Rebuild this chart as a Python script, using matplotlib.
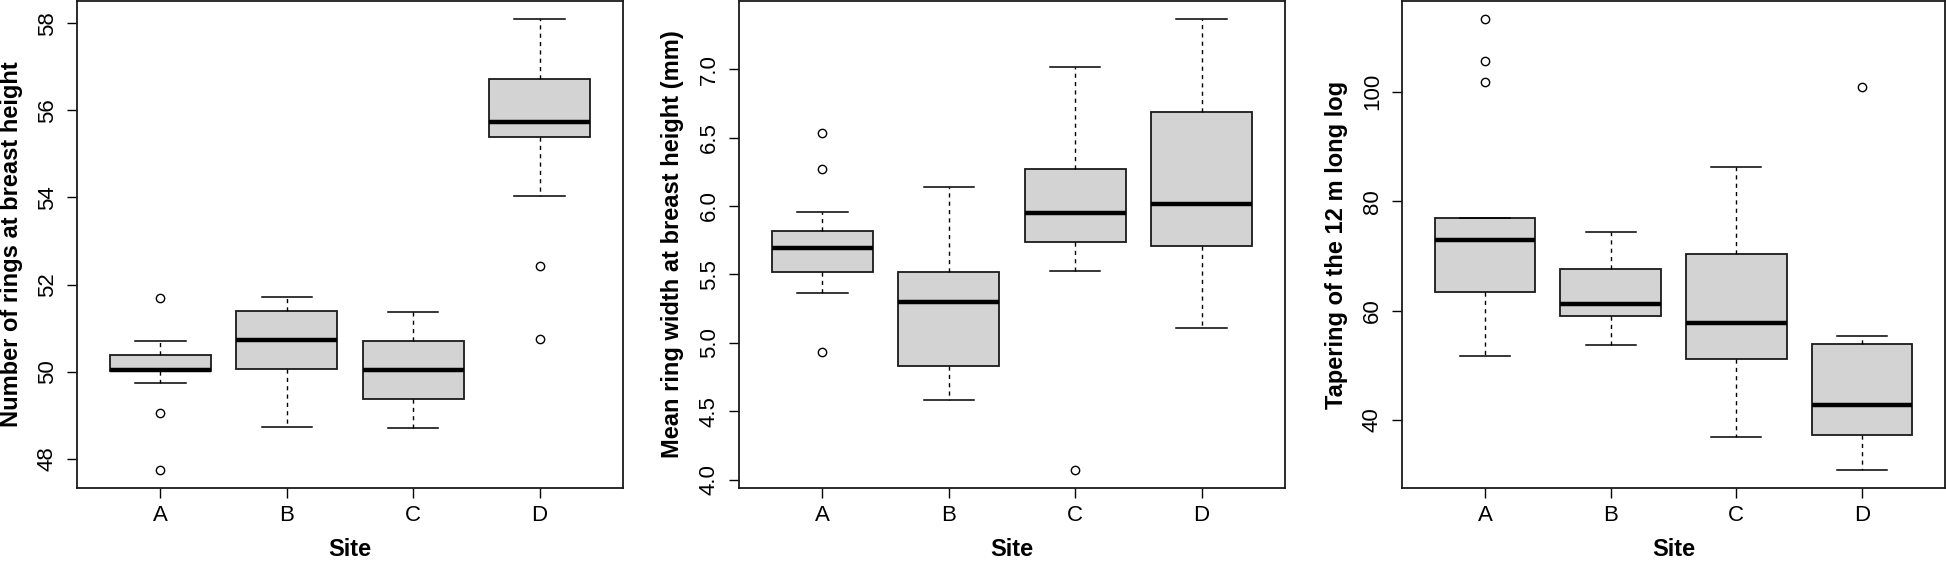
import matplotlib
matplotlib.use("Agg")
import matplotlib.pyplot as plt
import numpy as np

plt.rcParams['font.family'] = ['Liberation Sans', 'DejaVu Sans']

sites = ["A", "B", "C", "D"]

# Panel 1: Number of rings at breast height
rings_whislo = [49.73, 48.73, 48.70, 54.04]
rings_q1     = [50.02, 50.05, 49.37, 55.40]
rings_med    = [50.04, 50.73, 50.04, 55.74]
rings_q3     = [50.37, 51.40, 50.70, 56.73]
rings_whishi = [50.70, 51.72, 51.38, 58.10]
rings_fliers = [[51.70, 49.04, 47.74], [], [], [52.42, 50.75]]
rings_ticks  = [48, 50, 52, 54, 56, 58]

# Panel 2: Mean ring width at breast height (mm)
width_whislo = [5.367, 4.579, 5.524, 5.106]
width_q1     = [5.518, 4.827, 5.738, 5.709]
width_med    = [5.691, 5.297, 5.949, 6.014]
width_q3     = [5.818, 5.518, 6.270, 6.690]
width_whishi = [5.954, 6.139, 7.016, 7.366]
width_fliers = [[6.536, 6.272, 4.931], [], [4.070], []]
width_ticks  = [4.0, 4.5, 5.0, 5.5, 6.0, 6.5, 7.0]

# Panel 3: Tapering of the 12 m long log
taper_whislo = [51.76, 53.78, 36.86, 30.86]
taper_q1     = [63.45, 59.07, 51.23, 37.32]
taper_med    = [72.98, 61.23, 57.70, 42.81]
taper_q3     = [76.97, 67.56, 70.37, 53.85]
taper_whishi = [76.97, 74.42, 86.18, 55.28]
taper_fliers = [[113.3, 105.7, 101.7], [], [], [100.94]]
taper_ticks  = [40, 60, 80, 100]

panels = [
    ("Number of rings at breast height", rings_whislo, rings_q1, rings_med, rings_q3, rings_whishi, rings_fliers, rings_ticks, "{:.0f}"),
    ("Mean ring width at breast height (mm)", width_whislo, width_q1, width_med, width_q3, width_whishi, width_fliers, width_ticks, "{:.1f}"),
    ("Tapering of the 12 m long log", taper_whislo, taper_q1, taper_med, taper_q3, taper_whishi, taper_fliers, taper_ticks, "{:.0f}"),
]

W, H = 1946, 561
fig = plt.figure(figsize=(W / 100, H / 100), dpi=100)
lefts = [77, 739, 1402]
widths = [546, 546, 543]
bottom_px, top_px = 488, 1
ax_h = bottom_px - top_px

for (ylabel, wlo, q1, med, q3, whi, fl, ticks, fmt), lp, wp in zip(panels, lefts, widths):
    ax = fig.add_axes([lp / W, (H - bottom_px) / H, wp / W, ax_h / H])
    stats = []
    for i in range(len(sites)):
        stats.append(dict(label=sites[i], whislo=wlo[i], q1=q1[i], med=med[i],
                          q3=q3[i], whishi=whi[i], fliers=fl[i]))
    ax.bxp(stats, positions=np.arange(1, len(sites) + 1), widths=0.8,
           patch_artist=True, showfliers=True,
           boxprops=dict(facecolor="#D3D3D3", edgecolor="#1a1a1a", linewidth=1.3),
           medianprops=dict(color="black", linewidth=3.2, solid_capstyle="butt"),
           whiskerprops=dict(color="black", linewidth=1.0, linestyle=(0, (3, 3))),
           capprops=dict(color="black", linewidth=1.1),
           capwidths=0.4,
           flierprops=dict(marker="o", markerfacecolor="none", markeredgecolor="black",
                           markersize=6, markeredgewidth=1.0))
    allv = list(wlo) + list(whi) + [v for f in fl for v in f]
    lo, hi = min(allv), max(allv)
    pad = 0.04 * (hi - lo)
    ax.set_ylim(lo - pad, hi + pad)
    ax.set_xlim(0.34, len(sites) + 0.66)
    ax.set_yticks(ticks)
    ax.set_yticklabels([fmt.format(t) for t in ticks], rotation=90, va="center")
    ax.set_xticks(np.arange(1, len(sites) + 1))
    ax.set_xticklabels(sites)
    ax.tick_params(axis="both", labelsize=16, length=7.2, width=1.0, color="black", direction="out")
    ax.tick_params(axis="y", pad=6.5)
    ax.tick_params(axis="x", pad=5)
    for s in ax.spines.values():
        s.set_linewidth(1.3)
        s.set_color("#1a1a1a")
    ax.set_xlabel("Site", fontsize=17, fontweight="bold")
    ax.xaxis.set_label_coords(0.5, -49.5 / ax_h)
    ax.set_ylabel(ylabel, fontsize=17, fontweight="bold", va="center")
    ax.yaxis.set_label_coords(-66.0 / wp, 0.5)

fig.savefig("out.png", dpi=100)
